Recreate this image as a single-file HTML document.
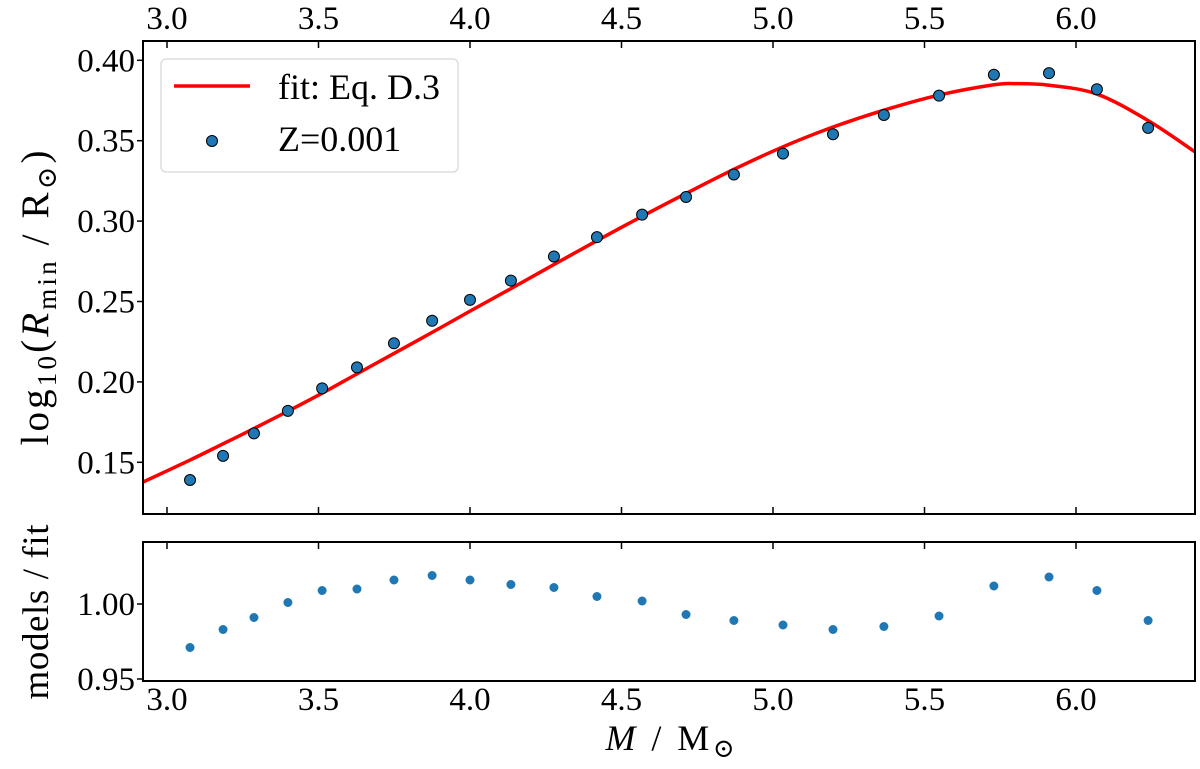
<!DOCTYPE html>
<html><head><meta charset="utf-8"><style>
html,body{margin:0;padding:0;background:#fff}
svg{display:block;font-family:"Liberation Serif","DejaVu Serif",serif}
</style></head><body>
<svg id="chart" width="1200" height="769" viewBox="0 0 1200 769" xmlns="http://www.w3.org/2000/svg">
<g id="gtop"></g>
<g id="gbot"></g>
<g>
<rect x="161" y="59" width="297" height="113" rx="5" fill="#fff" fill-opacity="0.8" stroke="#ddd" stroke-width="1.5"/>
<line x1="174" y1="86" x2="250" y2="86" stroke="#ff0000" stroke-width="3.5"/>
<text x="278" y="99" font-size="36">fit: Eq. D.3</text>
<circle cx="212" cy="141" r="5.5" fill="#1f77b4" stroke="#000" stroke-width="1"/>
<text x="278" y="151" font-size="36">Z=0.001</text>
</g>
<text transform="translate(48,298) rotate(-90)" text-anchor="middle" font-size="39" textLength="295" lengthAdjust="spacing">log<tspan font-size="27" dy="8">10</tspan><tspan dy="-8">(</tspan><tspan font-style="italic">R</tspan><tspan font-size="27" dy="8">min</tspan><tspan dy="-8"> / R</tspan><tspan font-size="27" dy="8">⊙</tspan><tspan dy="-8">)</tspan></text>
<text transform="translate(48,612) rotate(-90)" text-anchor="middle" font-size="37" textLength="175" lengthAdjust="spacing">models / fit</text>
<text x="670" y="750" text-anchor="middle" font-size="36" textLength="129" lengthAdjust="spacing"><tspan font-style="italic">M</tspan> / M<tspan font-size="26" dy="7">⊙</tspan></text>
</svg>
<script>
const massX=[3.076,3.185,3.287,3.399,3.512,3.627,3.749,3.875,4.0,4.135,4.277,4.419,4.568,4.713,4.871,5.033,5.198,5.366,5.548,5.729,5.911,6.069,6.238];
const logR=[0.139,0.154,0.168,0.182,0.196,0.209,0.224,0.238,0.251,0.263,0.278,0.290,0.304,0.315,0.329,0.342,0.354,0.366,0.378,0.391,0.392,0.382,0.358];
const ratio=[0.971,0.983,0.991,1.001,1.009,1.010,1.016,1.019,1.016,1.013,1.011,1.005,1.002,0.993,0.989,0.986,0.983,0.985,0.992,1.012,1.018,1.009,0.989];
const fitX=[2.921,3.076,3.185,3.287,3.399,3.512,3.627,3.749,3.875,4.0,4.135,4.277,4.419,4.568,4.713,4.871,5.033,5.198,5.366,5.548,5.729,5.8,5.911,6.069,6.238,6.393];
const fitY=[0.1377,0.1514,0.1615,0.171,0.1818,0.1930,0.2050,0.2177,0.2308,0.2440,0.2580,0.2730,0.2878,0.3030,0.3172,0.3322,0.3462,0.3585,0.3690,0.3784,0.3848,0.3855,0.3845,0.3790,0.3625,0.343];
const xTicks=[3.0,3.5,4.0,4.5,5.0,5.5,6.0];
const yTicksTop=[0.15,0.20,0.25,0.30,0.35,0.40];
const yTicksBot=[0.95,1.00];

const NS='http://www.w3.org/2000/svg';
const L=143,R=1195,T=41,B=514;
const xs=v=>167+(v-3.0)*303;
const ysT=v=>60.3+(0.40-v)*1608;
const ysB=v=>604+(1.00-v)*1500;
function mk(p,tag,a){const e=document.createElementNS(NS,tag);for(const k in a)e.setAttribute(k,a[k]);p.appendChild(e);return e;}
const gTop=document.getElementById('gtop'),gBot=document.getElementById('gbot');

const pts=fitX.map((x,i)=>[xs(x),ysT(fitY[i])]);
let d='M'+pts[0][0]+','+pts[0][1];
for(let i=0;i<pts.length-1;i++){const p0=pts[Math.max(0,i-1)],p1=pts[i],p2=pts[i+1],p3=pts[Math.min(pts.length-1,i+2)];
d+=` C${p1[0]+(p2[0]-p0[0])/6},${p1[1]+(p2[1]-p0[1])/6} ${p2[0]-(p3[0]-p1[0])/6},${p2[1]-(p3[1]-p1[1])/6} ${p2[0]},${p2[1]}`;}
const cp=mk(gTop,'clipPath',{id:'ct'});mk(cp,'rect',{x:L,y:T,width:R-L,height:B-T});
const fl=mk(gTop,'path',{d:d,fill:'none',stroke:'#ff0000','stroke-width':3.5,'clip-path':'url(#ct)'});


massX.forEach((x,i)=>{const c=mk(gTop,'circle',{cx:xs(x),cy:ysT(logR[i]),r:5.5,fill:'#1f77b4',stroke:'#000','stroke-width':1});

});
massX.forEach((x,i)=>{const c=mk(gBot,'circle',{cx:xs(x),cy:ysB(ratio[i]),r:4.5,fill:'#1f77b4'});

});

const f1=mk(gTop,'rect',{x:L,y:T,width:R-L,height:B-T,fill:'none',stroke:'#000','stroke-width':2});


const f2=mk(gBot,'rect',{x:L,y:542,width:R-L,height:139,fill:'none',stroke:'#000','stroke-width':2});



xTicks.forEach(v=>{const x=xs(v);
mk(gTop,'line',{x1:x,x2:x,y1:T,y2:T+7,stroke:'#000','stroke-width':1.5});
mk(gTop,'line',{x1:x,x2:x,y1:B,y2:B-7,stroke:'#000','stroke-width':1.5});
mk(gBot,'line',{x1:x,x2:x,y1:542,y2:549,stroke:'#000','stroke-width':1.5});
const t1=mk(gTop,'text',{x:x,y:29,'text-anchor':'middle','font-size':33});t1.textContent=v.toFixed(1);


const t2=mk(gBot,'text',{x:x,y:710,'text-anchor':'middle','font-size':33});t2.textContent=v.toFixed(1);

});
yTicksTop.forEach(v=>{const y=ysT(v);
mk(gTop,'line',{x1:L-6,x2:L,y1:y,y2:y,stroke:'#000','stroke-width':1.5});
const t=mk(gTop,'text',{x:L-8,y:y+11,'text-anchor':'end','font-size':33});t.textContent=v.toFixed(2);

});
yTicksBot.forEach(v=>{const y=ysB(v);
mk(gBot,'line',{x1:L-6,x2:L,y1:y,y2:y,stroke:'#000','stroke-width':1.5});
const t=mk(gBot,'text',{x:L-8,y:y+11,'text-anchor':'end','font-size':33});t.textContent=v.toFixed(2);

});
</script>
</body></html>
